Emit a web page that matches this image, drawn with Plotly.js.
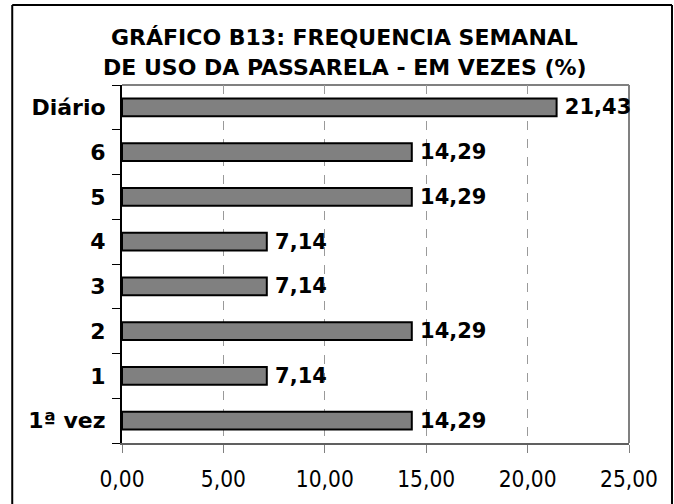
<!DOCTYPE html>
<html>
<head>
<meta charset="utf-8">
<script src="https://cdn.plot.ly/plotly-3.0.1.min.js"></script>
<style>html,body{margin:0;padding:0;background:#fff;}#chart{width:674px;height:504px;}</style>
</head>
<body>
<div id="chart"></div>
<script>
const categories = ["1ª vez", "1", "2", "3", "4", "5", "6", "Diário"];
const values = [14.29, 7.14, 14.29, 7.14, 7.14, 14.29, 14.29, 21.43];
const xTicks = [0, 5, 10, 15, 20, 25];
const titleLines = ["GRÁFICO B13: FREQUENCIA SEMANAL", "DE USO DA PASSARELA - EM VEZES (%)"];

const FONT = "DejaVu Sans Condensed, sans-serif";
const BFONT = "DejaVu Sans, sans-serif";

const trace = {
  type: "bar",
  orientation: "h",
  y: categories,
  x: values,
  width: 0.4,
  marker: {color: "#808080", line: {color: "#000000", width: 2}},
  texttemplate: "\u2005%{x:.2f}",
  textposition: "outside",
  constraintext: "none",
  cliponaxis: false,
  textfont: {family: BFONT, size: 21, color: "#000", weight: "bold"},
  hoverinfo: "none"
};

const layout = {
  width: 674, height: 504,
  margin: {l: 122, r: 45, t: 85, b: 61, pad: 0},
  paper_bgcolor: "#fff", plot_bgcolor: "#fff",
  separators: ",.",
  showlegend: false,
  font: {family: FONT, color: "#000"},
  xaxis: {
    range: [0, 25],
    tickvals: xTicks,
    tickformat: ".2f",
    ticks: "outside", ticklen: 8, tickcolor: "#808080", tickwidth: 1,
    ticklabelstandoff: 7,
    tickfont: {family: FONT, size: 22.5, color: "#000"},
    showgrid: true, gridcolor: "#9a9a9a", griddash: "dash", gridwidth: 1,
    showline: true, linecolor: "#606060", linewidth: 2,
    zeroline: false, fixedrange: true
  },
  yaxis: {
    type: "category",
    categoryorder: "array", categoryarray: categories,
    tickson: "boundaries",
    ticks: "outside", ticklen: 8, tickcolor: "#000", tickwidth: 1,
    ticklabelstandoff: 10,
    tickfont: {family: BFONT, size: 22, color: "#000", weight: "bold"},
    showgrid: false,
    showline: true, linecolor: "#000", linewidth: 2,
    zeroline: false, fixedrange: true
  },
  annotations: [
    {text: titleLines[0], xref: "paper", yref: "paper", x: 0.4398, y: 1.1327,
     xanchor: "center", yanchor: "middle", showarrow: false,
     font: {family: BFONT, size: 22, color: "#000", weight: "bold"}},
    {text: titleLines[1], xref: "paper", yref: "paper", x: 0.4398, y: 1.0489,
     xanchor: "center", yanchor: "middle", showarrow: false,
     font: {family: BFONT, size: 22, color: "#000", weight: "bold"}}
  ],
  shapes: [
    {type: "line", xref: "x domain", yref: "y domain", x0: 0, x1: 1, y0: 1, y1: 1,
     line: {color: "#808080", width: 2}, layer: "below"},
    {type: "line", xref: "x domain", yref: "y domain", x0: 1, x1: 1, y0: 0, y1: 1,
     line: {color: "#808080", width: 2}, layer: "below"},
    {type: "line", xref: "paper", yref: "paper", x0: -0.2165, x1: -0.2165, y0: -0.2, y1: 1.2235,
     line: {color: "#000", width: 2}},
    {type: "line", xref: "paper", yref: "paper", x0: -0.2165, x1: 1.0848, y0: 1.2235, y1: 1.2235,
     line: {color: "#000", width: 2}},
    {type: "line", xref: "paper", yref: "paper", x0: 1.0848, x1: 1.0848, y0: -0.2, y1: 1.2235,
     line: {color: "#000", width: 2}}
  ]
};

Plotly.newPlot("chart", [trace], layout, {displayModeBar: false, staticPlot: true});
</script>
</body>
</html>
